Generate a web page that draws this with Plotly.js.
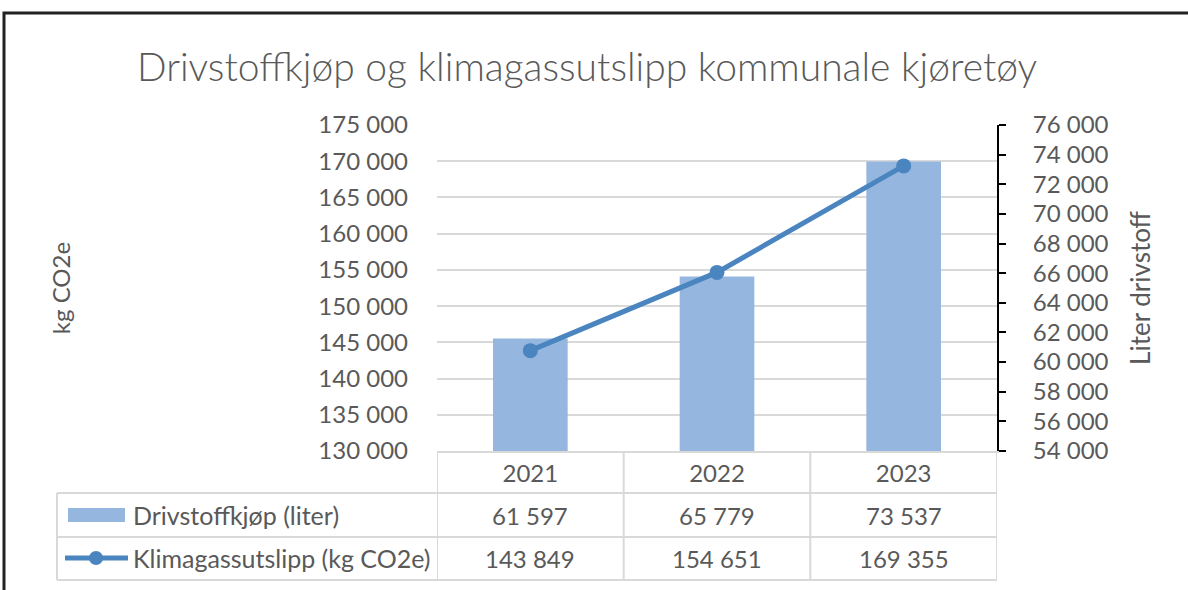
<!DOCTYPE html>
<html>
<head>
<meta charset="utf-8">
<script src="https://cdn.plot.ly/plotly-3.0.1.min.js"></script>
<style>html,body{margin:0;padding:0;background:#fff}#chart{width:1188px;height:590px}</style>
</head>
<body>
<div id="chart"></div>
<script>
// ---- data ----
const years = ['2021', '2022', '2023'];
const drivstoffLiter = [61597, 65779, 73537];
const klimagassKg = [143849, 154651, 169355];
const seriesNames = ['Drivstoffkjøp (liter)', 'Klimagassutslipp (kg CO2e)'];
const chartTitle = 'Drivstoffkjøp og klimagassutslipp kommunale kjøretøy';
const leftAxisTitle = 'kg CO2e';
const rightAxisTitle = 'Liter drivstoff';

// ---- style ----
const FONT = 'Lato, "Open Sans", sans-serif';
const TXT = '#595959';
const GRID = '#D9D9D9';
const BAR = '#95B7DF';
const LINE = '#4A85C0';

// plot area in pixels
const L = 437, R = 997, T = 125, B = 451;
const px = x => (x - L) / (R - L);
const py = y => (B - y) / (B - T);

function fmt(v) { return String(v).replace(/\B(?=(\d{3})+(?!\d))/g, ' '); }

const traces = [
  {
    type: 'bar', name: seriesNames[0], x: years, y: drivstoffLiter,
    yaxis: 'y', marker: { color: BAR }, hoverinfo: 'skip'
  },
  {
    type: 'scatter', mode: 'lines+markers', name: seriesNames[1], x: years, y: klimagassKg,
    yaxis: 'y2', line: { color: LINE, width: 5 }, marker: { color: LINE, size: 15 }, hoverinfo: 'skip'
  }
];

const rowY = [py(515), py(558)];
const rowVals = [drivstoffLiter, klimagassKg];

const annotations = [];
rowVals.forEach((vals, r) => {
  vals.forEach((v, i) => {
    annotations.push({
      xref: 'x', yref: 'paper', x: i, y: rowY[r], text: fmt(v), showarrow: false,
      xanchor: 'center', yanchor: 'middle', font: { family: FONT, size: 24, color: TXT }
    });
  });
  annotations.push({
    xref: 'paper', yref: 'paper', x: px(131), y: rowY[r], text: seriesNames[r], showarrow: false,
    xanchor: 'left', yanchor: 'middle', font: { family: FONT, size: 25, color: TXT }
  });
});

const shapes = [];
// outer frame
shapes.push({ type: 'rect', xref: 'paper', yref: 'paper', x0: px(4), x1: px(1200), y0: py(13), y1: py(610),
  line: { color: '#222222', width: 3 }, fillcolor: 'rgba(0,0,0,0)' });
// table horizontal lines
[493, 537, 580].forEach(y => shapes.push({ type: 'line', xref: 'paper', yref: 'paper', x0: px(57), x1: px(R), y0: py(y), y1: py(y),
  line: { color: GRID, width: 2 } }));
// table left border
shapes.push({ type: 'line', xref: 'paper', yref: 'paper', x0: px(57), x1: px(57), y0: py(493), y1: py(580), line: { color: GRID, width: 2 } });
// category boundaries
for (let k = 0; k <= years.length; k++) {
  shapes.push({ type: 'line', xref: 'x', yref: 'paper', x0: k - 0.5, x1: k - 0.5, y0: 0, y1: py(580), line: { color: GRID, width: 2 } });
}
// legend keys
shapes.push({ type: 'rect', xref: 'paper', yref: 'paper', x0: px(68), x1: px(125), y0: py(508), y1: py(522), line: { width: 0 }, fillcolor: BAR });
shapes.push({ type: 'line', xref: 'paper', yref: 'paper', x0: px(65), x1: px(128), y0: py(558), y1: py(558), line: { color: LINE, width: 5 } });
shapes.push({ type: 'circle', xref: 'paper', yref: 'paper', x0: px(89), x1: px(103), y0: py(551), y1: py(565), line: { width: 0 }, fillcolor: LINE });

const layout = {
  width: 1188, height: 590,
  margin: { l: L, r: 1188 - R, t: T, b: 590 - B, pad: 0 },
  paper_bgcolor: '#ffffff', plot_bgcolor: '#ffffff',
  separators: ', ',
  showlegend: false,
  bargap: 0.6,
  font: { family: FONT, color: TXT },
  title: {
    text: chartTitle, x: 587 / 1188, xref: 'container', xanchor: 'center',
    y: 1 - 67 / 590, yref: 'container', yanchor: 'middle',
    font: { family: FONT, size: 39, color: TXT, weight: 300 }
  },
  xaxis: {
    type: 'category', categoryorder: 'array', categoryarray: years, range: [-0.5, 2.5],
    showgrid: false, zeroline: false, showline: true, linecolor: GRID, linewidth: 2,
    ticks: '', tickfont: { family: FONT, size: 24, color: TXT }, ticklabelstandoff: 0
  },
  yaxis: {
    side: 'right', range: [54000, 76000], dtick: 2000, tick0: 54000, tickformat: ',d',
    showgrid: false, zeroline: false, showline: true, linecolor: '#000000', linewidth: 2,
    ticks: 'outside', ticklen: 7, tickwidth: 2, tickcolor: '#000000',
    tickfont: { family: FONT, size: 24, color: TXT }, ticklabelstandoff: 22,
    title: { text: rightAxisTitle, font: { family: FONT, size: 26, color: TXT }, standoff: 24 }
  },
  yaxis2: {
    overlaying: 'y', side: 'left', range: [130000, 175000], dtick: 5000, tick0: 130000, tickformat: ',d',
    showgrid: true, gridcolor: GRID, gridwidth: 2, zeroline: false, showline: false, ticks: '',
    tickfont: { family: FONT, size: 24, color: TXT }, ticklabelstandoff: 28,
    title: { text: leftAxisTitle, font: { family: FONT, size: 24, color: TXT }, standoff: 240 }
  },
  annotations: annotations,
  shapes: shapes
};

Plotly.newPlot('chart', traces, layout, { staticPlot: true, displayModeBar: false });
</script>
</body>
</html>
